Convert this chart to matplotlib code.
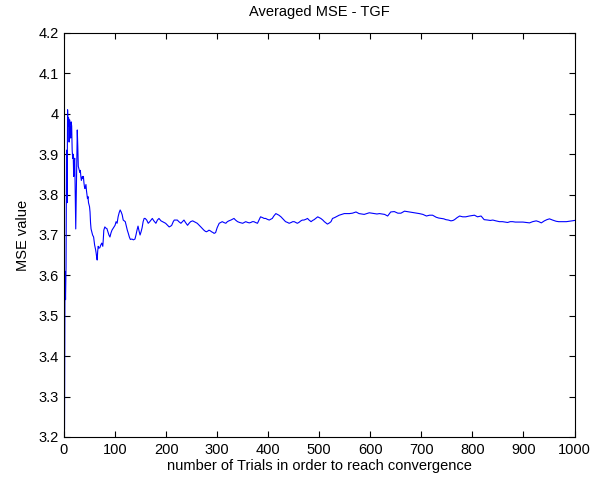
import matplotlib
matplotlib.use('Agg')
import matplotlib.pyplot as plt
from matplotlib.ticker import FuncFormatter

# odčitane vrednosti (trial, povprečni MSE)
trials = [1, 2, 3, 4, 5, 6, 7, 8, 9, 10, 11, 12, 13, 14, 15, 16, 17, 18, 19, 20,
          21, 22, 23, 24, 25, 26, 27, 28, 29, 30, 31, 32, 33, 34, 35, 36, 37, 38, 39, 40,
          41, 42, 43, 44, 45, 46, 47, 48, 49, 50, 51, 52, 53, 54, 56, 58, 60, 62, 63, 64,
          65, 66, 67, 68, 70, 72, 74, 76, 77, 78, 80, 82, 84, 86, 88, 90, 92, 94, 96, 98,
          100, 102, 104, 106, 108, 110, 112, 114, 116, 118, 120, 122, 124, 126, 128, 130, 133, 136, 139, 141,
          143, 145, 147, 149, 151, 153, 155, 157, 159, 162, 165, 168, 171, 173, 176, 180, 183, 186, 190, 193,
          196, 199, 203, 206, 209, 211, 214, 216, 219, 222, 225, 229, 232, 235, 238, 242, 245, 248, 252, 255,
          258, 261, 265, 268, 271, 274, 277, 279, 282, 284, 287, 289, 292, 294, 297, 300, 304, 307, 310, 313,
          317, 320, 323, 327, 330, 333, 336, 340, 344, 347, 350, 353, 356, 360, 363, 366, 369, 372, 375, 379,
          382, 385, 389, 392, 395, 398, 402, 405, 408, 411, 415, 418, 421, 425, 428, 431, 434, 438, 441, 445,
          448, 451, 454, 457, 460, 464, 467, 470, 474, 477, 480, 484, 487, 490, 494, 497, 500, 503, 507, 510,
          513, 516, 520, 523, 526, 530, 533, 536, 539, 544, 549, 554, 559, 565, 572, 578, 583, 588, 593, 598,
          603, 608, 613, 618, 623, 628, 634, 640, 647, 654, 660, 667, 672, 677, 682, 686, 691, 696, 703, 710,
          716, 722, 729, 734, 739, 744, 748, 753, 758, 762, 765, 770, 775, 781, 787, 794, 799, 804, 810, 817,
          823, 830, 835, 840, 846, 853, 859, 864, 869, 874, 879, 884, 889, 894, 899, 905, 912, 918, 925, 930,
          935, 941, 946, 951, 957, 964, 969, 974, 979, 984, 990, 995, 1000]

mse = [3.22, 3.61, 3.54, 3.62, 3.91, 3.78, 4.01, 3.97, 3.99, 3.93, 3.985, 3.95, 3.94, 3.98, 3.97, 3.91, 3.89, 3.90, 3.845, 3.88,
       3.89, 3.80, 3.715, 3.80, 3.90, 3.96, 3.92, 3.87, 3.865, 3.86, 3.855, 3.86, 3.845, 3.835, 3.84, 3.845, 3.84, 3.845, 3.83, 3.82,
       3.815, 3.82, 3.825, 3.81, 3.80, 3.79, 3.795, 3.78, 3.775, 3.77, 3.757, 3.73, 3.715, 3.71, 3.70, 3.695, 3.675, 3.663, 3.655, 3.645,
       3.638, 3.66, 3.672, 3.668, 3.668, 3.675, 3.68, 3.672, 3.69, 3.712, 3.72, 3.717, 3.716, 3.708, 3.70, 3.695, 3.705, 3.712, 3.716, 3.72,
       3.724, 3.733, 3.729, 3.745, 3.755, 3.762, 3.757, 3.75, 3.737, 3.735, 3.733, 3.722, 3.712, 3.704, 3.695, 3.689, 3.69, 3.688, 3.69, 3.70,
       3.712, 3.722, 3.71, 3.70, 3.708, 3.718, 3.733, 3.741, 3.741, 3.737, 3.729, 3.733, 3.738, 3.741, 3.735, 3.729, 3.737, 3.741, 3.735, 3.733,
       3.731, 3.729, 3.724, 3.72, 3.722, 3.724, 3.733, 3.737, 3.737, 3.737, 3.733, 3.729, 3.733, 3.737, 3.731, 3.724, 3.729, 3.733, 3.735, 3.733,
       3.731, 3.729, 3.724, 3.72, 3.716, 3.712, 3.709, 3.708, 3.71, 3.712, 3.71, 3.708, 3.706, 3.704, 3.706, 3.718, 3.729, 3.731, 3.733, 3.731,
       3.729, 3.733, 3.735, 3.737, 3.739, 3.741, 3.737, 3.733, 3.731, 3.73, 3.729, 3.731, 3.733, 3.731, 3.73, 3.731, 3.733, 3.733, 3.731, 3.729,
       3.737, 3.745, 3.743, 3.741, 3.741, 3.739, 3.737, 3.739, 3.741, 3.747, 3.753, 3.751, 3.749, 3.745, 3.741, 3.737, 3.733, 3.731, 3.729, 3.731,
       3.733, 3.733, 3.731, 3.729, 3.731, 3.735, 3.737, 3.737, 3.739, 3.741, 3.737, 3.733, 3.736, 3.738, 3.742, 3.745, 3.743, 3.741, 3.737, 3.733,
       3.73, 3.727, 3.73, 3.733, 3.741, 3.743, 3.745, 3.747, 3.749, 3.751, 3.753, 3.753, 3.753, 3.754, 3.757, 3.753, 3.752, 3.751, 3.753, 3.755,
       3.754, 3.753, 3.752, 3.753, 3.752, 3.751, 3.747, 3.757, 3.758, 3.754, 3.754, 3.759, 3.758, 3.757, 3.756, 3.755, 3.754, 3.753, 3.751, 3.747,
       3.749, 3.749, 3.744, 3.742, 3.741, 3.74, 3.738, 3.737, 3.735, 3.736, 3.738, 3.743, 3.747, 3.745, 3.745, 3.747, 3.748, 3.749, 3.745, 3.747,
       3.738, 3.737, 3.736, 3.737, 3.735, 3.733, 3.733, 3.732, 3.731, 3.733, 3.733, 3.732, 3.732, 3.732, 3.732, 3.731, 3.73, 3.733, 3.735, 3.733,
       3.73, 3.735, 3.738, 3.74, 3.737, 3.734, 3.733, 3.733, 3.733, 3.733, 3.734, 3.735, 3.736]

plt.rcParams['font.family'] = ['Liberation Sans', 'DejaVu Sans']
fs = 10.5

fig = plt.figure(figsize=(5.92, 4.83), dpi=100)
ax = fig.add_axes([64 / 592, 46 / 483, 510.5 / 592, 404 / 483])

ax.plot(trials, mse, color='#0000ff', linewidth=0.8)

ax.set_xlim(0, 1000)
ax.set_ylim(3.2, 4.2)
ax.set_xticks(range(0, 1001, 100))
ax.set_yticks([3.2 + 0.1 * i for i in range(11)])
ax.yaxis.set_major_formatter(FuncFormatter(lambda v, p: '%g' % round(v, 1)))

ax.tick_params(direction='in', top=True, right=True, length=4, width=0.8, labelsize=fs, pad=4)
for s in ax.spines.values():
    s.set_linewidth(0.8)

ax.set_title('Averaged MSE - TGF', fontsize=fs, pad=12)
ax.set_xlabel('number of Trials in order to reach convergence', fontsize=fs, labelpad=2)
ax.set_ylabel('MSE value', fontsize=fs, labelpad=6)

fig.savefig('out.png', dpi=100, facecolor='white')
